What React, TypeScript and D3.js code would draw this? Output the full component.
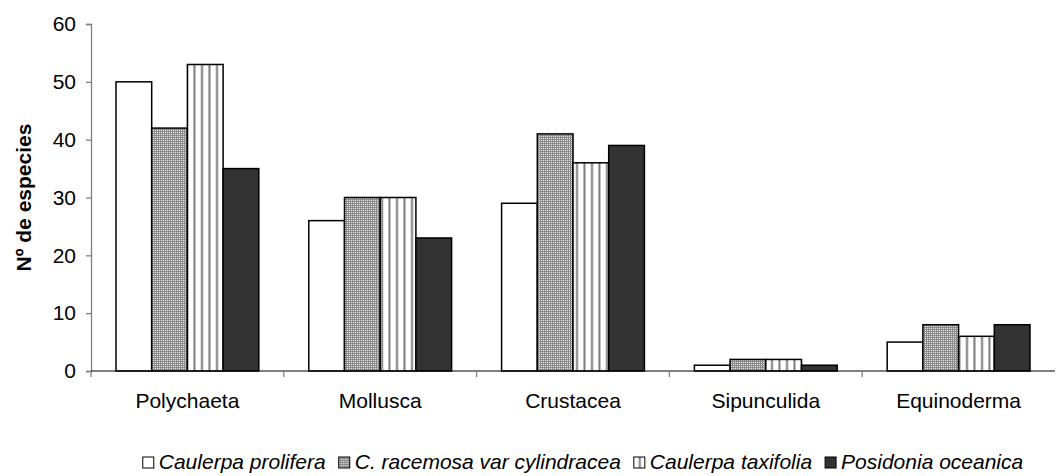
import React, { useEffect, useRef } from 'react';
import * as d3 from 'd3';

const categories = ['Polychaeta', 'Mollusca', 'Crustacea', 'Sipunculida', 'Equinoderma'];
const seriesNames = ['Caulerpa prolifera', 'C. racemosa var cylindracea', 'Caulerpa taxifolia', 'Posidonia oceanica'];
const prolifera = [50, 26, 29, 1, 5];
const racemosa = [42, 30, 41, 2, 8];
const taxifolia = [53, 30, 36, 2, 6];
const posidonia = [35, 23, 39, 1, 8];
const yTicks = [0, 10, 20, 30, 40, 50, 60];

const seriesValues = [prolifera, racemosa, taxifolia, posidonia];
const fills = ['#ffffff', 'url(#dots)', 'url(#stripes)', '#333333'];

const W = 1056;
const H = 476;

export default function App() {
  const svgRef = useRef<SVGSVGElement>(null);

  useEffect(() => {
    if (!svgRef.current) return;
    const svg = d3.select(svgRef.current);
    svg.selectAll('*').remove();

    const font = "'Liberation Sans', Arial, sans-serif";
    const fs = 21;
    const margin = { top: 24, right: 1, bottom: 105, left: 91 };
    const innerW = W - margin.left - margin.right;
    const innerH = H - margin.top - margin.bottom;

    // patterns
    const defs = svg.append('defs');
    const dots = defs.append('pattern')
      .attr('id', 'dots').attr('patternUnits', 'userSpaceOnUse')
      .attr('width', 2).attr('height', 2);
    dots.append('rect').attr('width', 2).attr('height', 2).attr('fill', '#8a8a8a');
    dots.append('rect').attr('width', 1).attr('height', 1).attr('fill', '#e8e8e8');

    const stripes = defs.append('pattern')
      .attr('id', 'stripes').attr('patternUnits', 'userSpaceOnUse')
      .attr('width', 7.5).attr('height', 4);
    stripes.append('rect').attr('width', 7.5).attr('height', 4).attr('fill', '#ffffff');
    stripes.append('rect').attr('x', 5).attr('width', 2).attr('height', 4).attr('fill', '#7a7a7a');

    const g = svg.append('g').attr('transform', `translate(${margin.left},${margin.top})`);

    const x0 = d3.scaleBand().domain(categories).range([0, innerW]).paddingInner(0).paddingOuter(0);
    const x1 = d3.scaleBand().domain(seriesNames).range([0, x0.bandwidth()]).paddingOuter(0.7).paddingInner(0);
    const y = d3.scaleLinear().domain([0, 60]).range([innerH, 0]);

    // y axis
    const yAxis = g.append('g')
      .call(d3.axisLeft(y).tickValues(yTicks).tickSize(5).tickPadding(10));
    yAxis.select('.domain').attr('stroke', '#808080').attr('stroke-width', 1.3);
    yAxis.selectAll('.tick line').attr('stroke', '#808080').attr('stroke-width', 1.3);
    yAxis.selectAll('.tick text').attr('font-family', font).attr('font-size', fs).attr('fill', '#000');

    // bars
    seriesNames.forEach((s, si) => {
      g.append('g').selectAll('rect')
        .data(categories.map((c, ci) => ({ c, v: seriesValues[si][ci] })))
        .join('rect')
        .attr('x', d => (x0(d.c) ?? 0) + (x1(s) ?? 0))
        .attr('y', d => y(d.v))
        .attr('width', x1.bandwidth())
        .attr('height', d => innerH - y(d.v))
        .attr('fill', fills[si])
        .attr('stroke', '#000')
        .attr('stroke-width', 1.5);
    });

    // x axis
    g.append('line')
      .attr('x1', 0).attr('x2', innerW)
      .attr('y1', innerH).attr('y2', innerH)
      .attr('stroke', '#000').attr('stroke-width', 1.2);
    g.append('g').selectAll('line')
      .data(categories.slice(1))
      .join('line')
      .attr('x1', d => x0(d) ?? 0).attr('x2', d => x0(d) ?? 0)
      .attr('y1', innerH).attr('y2', innerH + 6)
      .attr('stroke', '#808080').attr('stroke-width', 1.3);
    g.append('line')
      .attr('x1', 0).attr('x2', 0).attr('y1', innerH).attr('y2', innerH + 6)
      .attr('stroke', '#808080').attr('stroke-width', 1.3);
    g.append('g').selectAll('text')
      .data(categories)
      .join('text')
      .attr('x', d => (x0(d) ?? 0) + x0.bandwidth() / 2)
      .attr('y', innerH + 37)
      .attr('text-anchor', 'middle')
      .attr('font-family', font).attr('font-size', fs)
      .text(d => d);

    // y label
    svg.append('text')
      .attr('transform', `translate(31,${margin.top + innerH / 2}) rotate(-90)`)
      .attr('text-anchor', 'middle')
      .attr('font-family', font).attr('font-size', fs).attr('font-weight', 'bold')
      .text('Nº de especies');

    // legend
    const leg = svg.append('g');
    const items = leg.selectAll('g').data(seriesNames).join('g');
    items.append('rect')
      .attr('width', 11).attr('height', 11).attr('y', -12)
      .attr('fill', (_, i) => fills[i])
      .attr('stroke', '#000').attr('stroke-width', 1);
    const texts = items.append('text')
      .attr('x', 16)
      .attr('font-family', font).attr('font-size', fs).attr('font-style', 'italic')
      .text(d => d);
    const gap = 13;
    let cx = 0;
    const offs: number[] = [];
    texts.each(function () {
      offs.push(cx);
      cx += 16 + (this as SVGTextElement).getComputedTextLength() + gap;
    });
    const total = cx - gap;
    const start = 583 - total / 2;
    items.attr('transform', (_, i) => `translate(${start + offs[i]},469)`);
  }, []);

  return <svg ref={svgRef} width={W} height={H} style={{ display: 'block', position: 'absolute', left: 0, top: 0 }} />;
}
